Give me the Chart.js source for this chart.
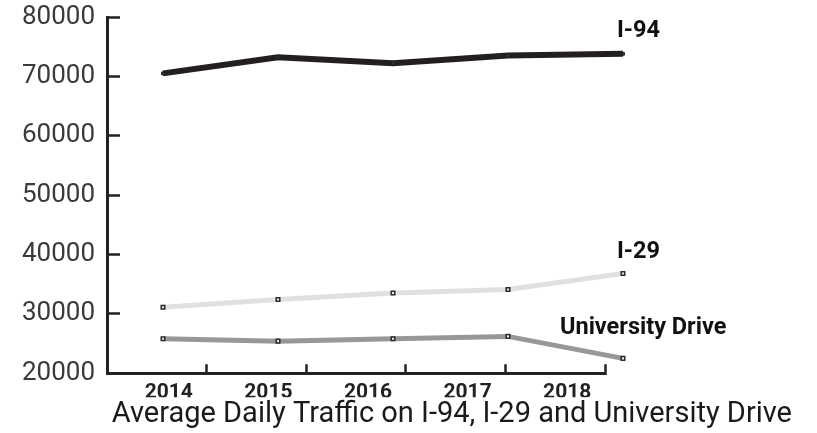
<!DOCTYPE html>
<html>
<head>
<meta charset="utf-8">
<script src="https://cdn.jsdelivr.net/npm/chart.js@4"></script>
<style>
  html, body { margin: 0; padding: 0; background: #fff; }
  #wrap { width: 817px; height: 433px; }
</style>
</head>
<body>
<div id="wrap"><canvas id="trafficChart" width="817" height="433"></canvas></div>
<script>
const years = ['2014', '2015', '2016', '2017', '2018'];
const i94 = [70500, 73200, 72200, 73500, 73800];
const i29 = [31100, 32400, 33500, 34100, 36800];
const universityDrive = [25800, 25400, 25800, 26200, 22500];
const yTicks = [20000, 30000, 40000, 50000, 60000, 70000, 80000];

// writes the road name next to the last point of each line
const endLabels = {
    id: 'endLabels',
    afterDatasetsDraw(chart) {
        const c = chart.ctx;
        c.save();
        c.font = 'bold 23.5px Roboto';
        c.fillStyle = '#111';
        c.textAlign = 'left';
        c.textBaseline = 'middle';
        chart.data.datasets.forEach((ds, i) => {
            const pts = chart.getDatasetMeta(i).data;
            const last = pts[pts.length - 1];
            c.fillText(ds.label, last.x + ds.labelDx, last.y + ds.labelDy);
        });
        c.restore();
    }
};

// the year axis stops a bit short of the last points
const shortXAxis = {
    id: 'shortXAxis',
    afterLayout(chart) {
        const s = chart.scales.x;
        s.right = chart.chartArea.right - 25;
        s.width = s.right - s.left;
        s.configure();
    }
};

const ctx = document.getElementById('trafficChart').getContext('2d');

const trafficChart = new Chart(ctx, {
    type: 'line',
    data: {
        labels: years,
        datasets: [{
            label: 'I-94',
            data: i94,
            borderColor: '#231f20',
            borderWidth: 6,
            pointStyle: 'rect',
            pointRadius: 2,
            pointBorderWidth: 1,
            pointBorderColor: '#222',
            pointBackgroundColor: '#333',
            xAxisID: 'xd',
            labelDx: -6,
            labelDy: -23
        }, {
            label: 'I-29',
            data: i29,
            borderColor: '#e0e0e0',
            borderWidth: 5,
            pointStyle: 'rect',
            pointRadius: 2.5,
            pointBorderWidth: 1.5,
            pointBorderColor: '#2a2a2a',
            pointBackgroundColor: '#eee',
            xAxisID: 'xd',
            labelDx: -6,
            labelDy: -21
        }, {
            label: 'University Drive',
            data: universityDrive,
            borderColor: '#979797',
            borderWidth: 5,
            pointStyle: 'rect',
            pointRadius: 2.5,
            pointBorderWidth: 1.5,
            pointBorderColor: '#2a2a2a',
            pointBackgroundColor: '#eee',
            xAxisID: 'xd',
            labelDx: -63,
            labelDy: -30
        }]
    },
    options: {
        responsive: false,
        animation: false,
        clip: false,
        layout: { padding: { top: 17, left: 0, right: 25, bottom: 0 } },
        scales: {
            x: {
                type: 'category',
                position: 'bottom',
                offset: true,
                grid: {
                    offset: true,
                    drawOnChartArea: false,
                    tickLength: -9,
                    tickWidth: 2.5,
                    tickColor: '#222'
                },
                border: { color: '#222', width: 3 },
                ticks: {
                    color: '#222',
                    font: { family: 'Roboto', size: 21, weight: 'bold' },
                    padding: 16,
                    labelOffset: 12,
                    maxRotation: 0
                },
                afterFit: s => { s.height = 24; s.paddingLeft = 0; s.paddingRight = 0; }
            },
            xd: {
                type: 'linear',
                display: false,
                min: 2013.513,
                max: 2018.061
            },
            y: {
                min: 20000,
                max: 80000,
                afterBuildTicks: s => { s.ticks = yTicks.map(v => ({ value: v })); },
                grid: {
                    drawOnChartArea: false,
                    tickLength: -13,
                    tickWidth: 2.5,
                    tickColor: '#222'
                },
                border: { color: '#222', width: 3 },
                ticks: {
                    color: '#3a3a3a',
                    font: { family: 'Roboto', size: 26 },
                    padding: 25,
                    callback: v => String(v)
                },
                afterFit: s => { s.width = 107; s.paddingTop = 0; s.paddingBottom = 0; }
            },
            yr: {
                position: 'right',
                grid: { display: false },
                border: { display: false },
                ticks: { display: false },
                afterFit: s => { s.width = 162; s.paddingTop = 0; s.paddingBottom = 0; }
            }
        },
        plugins: {
            legend: { display: false },
            tooltip: { enabled: false },
            title: {
                display: true,
                position: 'bottom',
                align: 'end',
                text: 'Average Daily Traffic on I-94, I-29 and University Drive',
                color: '#1a1a1a',
                font: { family: 'Roboto', size: 29, weight: 'normal' },
                padding: { top: 0, bottom: 1 }
            }
        }
    },
    plugins: [endLabels, shortXAxis]
});
</script>
</body>
</html>
